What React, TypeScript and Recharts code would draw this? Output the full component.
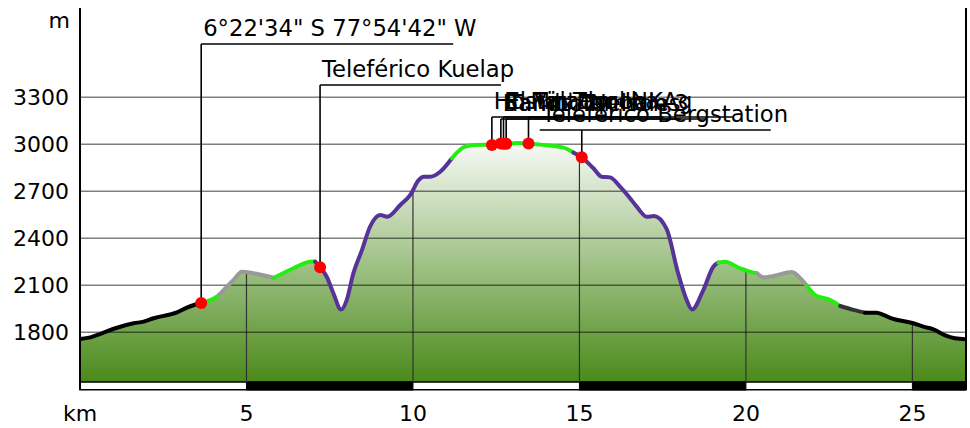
import React from 'react';
import {
  ComposedChart,
  Area,
  Line,
  XAxis,
  YAxis,
  ReferenceLine,
  ReferenceArea,
  ReferenceDot,
  Label,
} from 'recharts';

// distance along the route (km)
const kmValues = [
  0, 0.31, 0.61, 1.06, 1.61, 1.91, 2.21, 2.91, 3.21, 3.45,
  3.64, 4.11, 4.18, 4.61, 4.86, 5.21, 5.83, 6.41, 6.91, 7.06,
  7.21, 7.41, 7.61, 7.84, 8.01, 8.21, 8.47, 8.71, 9.02, 9.23,
  9.62, 9.92, 10.17, 10.32, 10.52, 10.82, 11.17, 11.52, 11.82, 12.22,
  12.37, 12.67, 12.82, 13.12, 13.47, 13.82, 14.52, 14.82, 15.07, 15.42,
  15.67, 15.92, 16.22, 16.52, 16.72, 17.02, 17.24, 17.62, 17.96, 18.22,
  18.38, 18.72, 19.02, 19.17, 19.37, 19.82, 20.22, 20.33, 20.53, 20.83,
  21.38, 21.68, 21.84, 21.93, 22.08, 22.53, 22.83, 23.23, 23.58, 23.93,
  24.13, 24.33, 25.03, 25.33, 25.63, 26.03, 26.28, 26.6,
];

// elevation (m)
const elevValues = [
  1758, 1768, 1790, 1826, 1858, 1868, 1890, 1928, 1958, 1976,
  1988, 2028, 2040, 2134, 2187, 2177, 2148, 2209, 2251, 2252,
  2215, 2155, 2049, 1945, 2006, 2177, 2326, 2474, 2549, 2538,
  2613, 2677, 2772, 2793, 2793, 2825, 2911, 2981, 2996, 2998,
  2996, 3005, 3003, 3008, 3005, 2998, 2979, 2947, 2917, 2847,
  2793, 2789, 2730, 2656, 2602, 2538, 2542, 2458, 2180, 2006,
  1945, 2070, 2219, 2245, 2251, 2209, 2181, 2177, 2151, 2160,
  2185, 2134, 2095, 2070, 2038, 2006, 1968, 1943, 1925, 1925,
  1911, 1893, 1858, 1836, 1819, 1777, 1762, 1756,
];

// slope-coloured segments of the profile line
const segmentBreaks = [0, 3.64, 4.18, 5.83, 7.06, 11.17, 14.82, 19.17, 20.33, 21.84, 22.83, 23.58, 26.6];
const segmentColors = [
  '#000000', '#22ee11', '#999999', '#22ee11', '#553399', '#22ee11',
  '#553399', '#22ee11', '#999999', '#22ee11', '#333333', '#000000',
];

const xTicks = [0, 5, 10, 15, 20, 25];
const yTicks = [1800, 2100, 2400, 2700, 3000, 3300];
const vGridKm = [5, 10, 15, 20, 25];
const vGridTopElev = [2180, 2710, 2930, 2195, 1862];
const scaleBarBlack = [
  [5, 10],
  [15, 20],
  [25, 26.61],
];

// points of interest
const poiNames = [
  '6°22\'34" S 77°54\'42" W',
  'Teleférico Kuelap',
  'Hostal Tambo',
  'Baños Termales',
  'El Tintaqocha',
  'Tambo Nelson 3',
  'Mirador INKAg',
  'Teleférico Bergstation',
];
const poiKm = [3.64, 7.21, 12.37, 12.64, 12.72, 12.8, 13.47, 15.07];
const poiElev = [1988, 2215, 2996, 3005, 3004, 3003, 3005, 2917];
const poiLeaderY = [44, 85, 117, 119, 117, 119, 117, 130];
const poiDx = [0, 0, 0, 0, 0, 0, 0, -42];
const poiLineLen = [252, 181, 150, 180, 160, 200, 204, 231];

const X_MAX = 26.61;
const Y_MIN = 1432;
const Y_MAX = 3870;
const BASE = 1483;
const FONT = 'DejaVu Sans';

const data = kmValues.map((k, i) => {
  const row: Record<string, number | null> = { km: k, elev: elevValues[i] };
  segmentColors.forEach((_, s) => {
    const inSeg = k >= segmentBreaks[s] - 1e-9 && k <= segmentBreaks[s + 1] + 1e-9;
    row['s' + s] = inSeg ? elevValues[i] : null;
  });
  return row;
});

export default function App() {
  return (
    <div style={{ position: 'absolute', left: 0, top: 0 }}>
      <ComposedChart
        width={970}
        height={428}
        data={data}
        margin={{ top: 8, right: 4, bottom: 0, left: 8 }}
        style={{ fontFamily: FONT }}
      >
        <defs>
          <linearGradient id="areaFill" x1="0" y1="0" x2="0" y2="1">
            <stop offset="0" stopColor="#f7faf5" />
            <stop offset="1" stopColor="#4a8a1a" />
          </linearGradient>
        </defs>
        <XAxis
          type="number"
          dataKey="km"
          domain={[0, X_MAX]}
          ticks={xTicks}
          interval={0}
          allowDataOverflow
          tickFormatter={(v: number) => (v === 0 ? 'km' : String(v))}
          axisLine={false}
          tickLine={false}
          tickSize={6}
          tickMargin={9}
          height={38}
          tick={{ fontSize: 22, fill: '#000', fontFamily: FONT }}
        />
        <YAxis
          type="number"
          domain={[Y_MIN, Y_MAX]}
          ticks={yTicks}
          interval={0}
          allowDataOverflow
          width={72}
          axisLine={{ stroke: '#000', strokeWidth: 2 }}
          tickLine={false}
          tickSize={6}
          tickMargin={5}
          tick={{ fontSize: 22, fill: '#000', fontFamily: FONT }}
        >
          <Label
            content={(props: any) => {
              const vb = props.viewBox || { x: 8, y: 8, width: 72 };
              return (
                <text
                  x={vb.x + vb.width - 10}
                  y={vb.y + 20}
                  textAnchor="end"
                  fontSize={22}
                  fontFamily={FONT}
                  fill="#000"
                >
                  m
                </text>
              );
            }}
          />
        </YAxis>

        <Area
          dataKey="elev"
          type="monotone"
          baseValue={BASE}
          fill="url(#areaFill)"
          fillOpacity={1}
          stroke="none"
          isAnimationActive={false}
          activeDot={false}
        />

        {vGridKm.map((k, i) => (
          <ReferenceLine
            key={'vg' + k}
            segment={[
              { x: k, y: BASE },
              { x: k, y: vGridTopElev[i] },
            ]}
            stroke="#333"
            strokeWidth={1.2}
          />
        ))}
        {yTicks.map((t) => (
          <ReferenceLine key={'hg' + t} y={t} stroke="#000" strokeOpacity={0.5} strokeWidth={1.5} />
        ))}

        <ReferenceArea x1={0} x2={X_MAX} y1={Y_MIN + 2} y2={BASE} fill="#fff" fillOpacity={1} stroke="#000" strokeWidth={1.5} />
        {scaleBarBlack.map(([a, b]) => (
          <ReferenceArea key={'sb' + a} x1={a} x2={b} y1={Y_MIN} y2={BASE} fill="#000" fillOpacity={1} stroke="#000" />
        ))}
        <ReferenceLine x={X_MAX} stroke="#000" strokeWidth={2} />

        {segmentColors.map((c, s) => (
          <Line
            key={'seg' + s}
            dataKey={'s' + s}
            type="monotone"
            stroke={c}
            strokeWidth={4}
            strokeLinecap="round"
            strokeLinejoin="round"
            dot={false}
            activeDot={false}
            connectNulls={false}
            isAnimationActive={false}
          />
        ))}

        {poiKm.map((k, i) => (
          <ReferenceDot
            key={'lead' + i}
            x={k}
            y={poiElev[i]}
            r={6}
            shape={(p: any) => {
              const cx = p.cx;
              const cy = p.cy;
              const ly = poiLeaderY[i];
              const x0 = cx + poiDx[i];
              return (
                <g>
                  <line x1={cx} y1={cy} x2={cx} y2={ly} stroke="#000" strokeWidth={1.6} />
                  <line x1={x0} y1={ly} x2={x0 + poiLineLen[i]} y2={ly} stroke="#000" strokeWidth={1.6} />
                  <text x={x0 + 2} y={ly - 8} fontSize={22.7} fontFamily={FONT} fill="#000">
                    {poiNames[i]}
                  </text>
                </g>
              );
            }}
          />
        ))}
        {poiKm.map((k, i) => (
          <ReferenceDot key={'dot' + i} x={k} y={poiElev[i]} r={6} fill="#ff0000" stroke="none" />
        ))}
      </ComposedChart>
    </div>
  );
}
